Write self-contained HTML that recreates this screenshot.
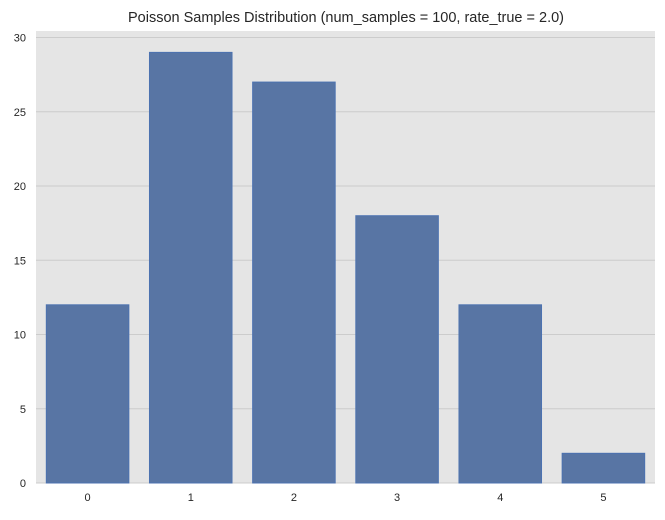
<!DOCTYPE html>
<html><head><meta charset="utf-8"><style>
body{margin:0;background:#fff;}
svg text{font-family:"Liberation Sans",Arial,sans-serif;fill:#262626;}
</style></head><body>
<svg id="chart" width="665" height="515">
<rect x="36" y="31" width="619" height="452" fill="#e5e5e5"/>
<g id="grid"></g><g id="bars"></g><g id="xt"></g><g id="yt"></g>
<text x="346" y="22" font-size="14.5" text-anchor="middle">Poisson Samples Distribution (num_samples = 100, rate_true = 2.0)</text>
</svg>
<script>
const categories=["0","1","2","3","4","5"];
const counts=[12,29,27,18,12,2];
const yTicks=[0,5,10,15,20,25,30];
const L=36,R=655,T=31,B=483,YMAX=30.44;
const NS="http://www.w3.org/2000/svg";
const bw=(R-L)/categories.length;
const xc=i=>L+bw*(i+0.5);
const y=v=>B-(v/YMAX)*(B-T);
function mk(tag,attrs,parent,txt){const e=document.createElementNS(NS,tag);for(const k in attrs)e.setAttribute(k,attrs[k]);if(txt!==undefined)e.textContent=txt;document.getElementById(parent).appendChild(e);return e;}
yTicks.forEach(t=>{
 const g=mk('line',{x1:L,x2:R,y1:y(t),y2:y(t),stroke:'#cccccc','stroke-width':1},'grid');
 
 
 const l=mk('text',{x:26,y:y(t)+4,'font-size':11,'text-anchor':'end'},'yt',t);
 
 
});
categories.forEach((c,i)=>{
 const w=bw*0.8;
 const r=mk('rect',{x:xc(i)-w/2,y:y(counts[i]),width:w,height:B-y(counts[i]),fill:'#5875a4',stroke:'#4c72b0','stroke-width':1},'bars');
 
 
 const l=mk('text',{x:xc(i),y:B+18,'font-size':11,'text-anchor':'middle'},'xt',c);
 
 
});
</script>
</body></html>
